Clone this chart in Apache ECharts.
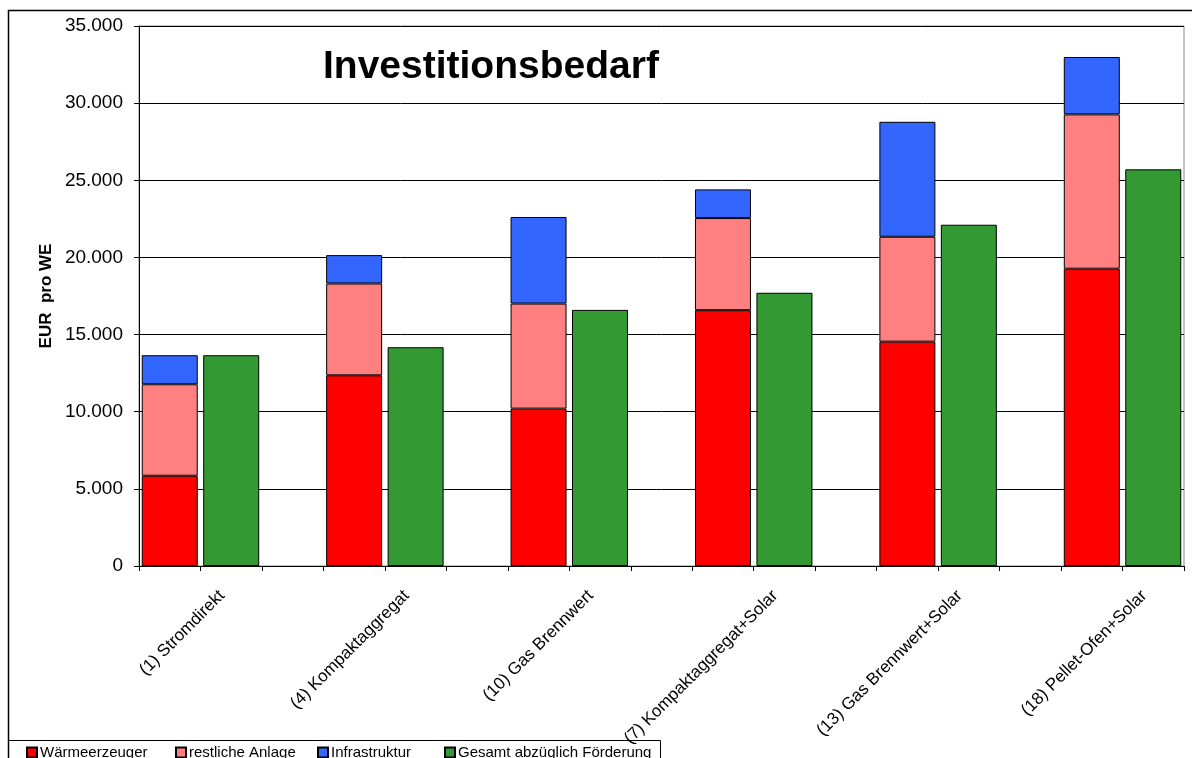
<!DOCTYPE html>
<html>
<head>
<meta charset="utf-8">
<script src="https://cdn.jsdelivr.net/npm/echarts@6/dist/echarts.min.js"></script>
<style>
html,body{margin:0;padding:0;background:#fff;}
#chart{width:1192px;height:758px;}
</style>
</head>
<body>
<div id="chart"></div>
<script>
// ---- data ----
var categories = ['(1) Stromdirekt', '(4) Kompaktaggregat', '(10) Gas Brennwert', '(7) Kompaktaggregat+Solar', '(13) Gas Brennwert+Solar', '(18) Pellet-Ofen+Solar'];
var waermeerzeuger = [5850, 12360, 10200, 16580, 14540, 19270];
var restlicheAnlage = [5930, 5950, 6810, 5970, 6800, 10000];
var infrastruktur = [1880, 1840, 5610, 1860, 7450, 3720];
var gesamtAbzFoerderung = [13660, 14180, 16600, 17710, 22120, 25710];
var yTicks = [0, 5000, 10000, 15000, 20000, 25000, 30000, 35000];
var seriesNames = ['Wärmeerzeuger', 'restliche Anlage', 'Infrastruktur', 'Gesamt abzüglich Förderung'];

// build slot layout: [stacked, total, gap] per group (last gap omitted)
var axisCats = [];
function slotArray(vals, offset) {
  var arr = [];
  for (var g = 0; g < categories.length; g++) {
    for (var s = 0; s < 3; s++) {
      if (g === categories.length - 1 && s === 2) continue;
      arr.push(s === offset ? vals[g] : null);
    }
  }
  return arr;
}
for (var g = 0; g < categories.length; g++) {
  axisCats.push('g' + g + 'a');
  axisCats.push('g' + g + 'b');
  if (g < categories.length - 1) axisCats.push('g' + g + 'c');
}
function labelFor(v) {
  var m = /^g(\d+)b$/.exec(v);
  return m ? categories[+m[1]] : '';
}
function fmt(v) { return String(v).replace(/\B(?=(\d{3})+(?!\d))/g, '.'); }

var font = 'Liberation Sans, Arial, sans-serif';
var colors = ['#FF0000', '#FF8080', '#3366FF', '#339933'];
var datas = [slotArray(waermeerzeuger, 0), slotArray(restlicheAnlage, 0), slotArray(infrastruktur, 0), slotArray(gesamtAbzFoerderung, 1)];
var legendLefts = [26, 175, 317, 444];

var chart = echarts.init(document.getElementById('chart'), null, {renderer: 'canvas'});
chart.setOption({
  animation: false,
  backgroundColor: '#fff',
  textStyle: {fontFamily: font, color: '#000'},
  grid: {left: 139, right: 8, top: 26, bottom: 192, show: true, borderColor: '#888', borderWidth: 1},
  legend: seriesNames.map(function (n, i) {
    return {
      left: legendLefts[i], top: 745, padding: 0,
      itemWidth: 10, itemHeight: 10,
      icon: 'rect',
      textStyle: {fontFamily: font, fontSize: 15, color: '#000', padding: [0, 0, 0, -2]},
      data: [n]
    };
  }),
  xAxis: {
    type: 'category',
    data: axisCats,
    axisLine: {lineStyle: {color: '#000', width: 1}},
    axisTick: {show: true, interval: 0, alignWithLabel: false, length: 5, lineStyle: {color: '#000'}},
    axisLabel: {interval: 0, rotate: 45, fontSize: 17, color: '#000', fontFamily: font, margin: 18, padding: [0, 13, 0, 0], formatter: labelFor}
  },
  yAxis: {
    type: 'value', min: yTicks[0], max: yTicks[yTicks.length - 1], interval: yTicks[1] - yTicks[0],
    axisLine: {show: true, lineStyle: {color: '#000'}},
    axisTick: {show: true, length: 5, lineStyle: {color: '#000'}},
    splitLine: {show: true, lineStyle: {color: '#000', width: 1}},
    axisLabel: {fontSize: 19, color: '#000', fontFamily: font, margin: 16, formatter: fmt}
  },
  graphic: [
    {type: 'rect', shape: {x: 8.5, y: 10.5, width: 1200, height: 800}, style: {fill: 'none', stroke: '#000', lineWidth: 1.5}, silent: true, z: 0},
    {type: 'rect', shape: {x: 8.5, y: 740.5, width: 652, height: 40}, style: {fill: 'none', stroke: '#000', lineWidth: 1}, silent: true, z: 0},
    {type: 'text', left: 323, top: 48, style: {text: 'Investitionsbedarf', font: 'bold 39px ' + font, fill: '#000'}, z: 10},
    {type: 'text', x: 46, y: 296, rotation: Math.PI / 2, style: {text: 'EUR  pro WE', font: 'bold 17px ' + font, fill: '#000', align: 'center', verticalAlign: 'middle'}, z: 10}
  ],
  series: seriesNames.map(function (n, i) {
    return {
      name: n, type: 'bar', stack: 'all', barWidth: 56,
      itemStyle: {color: colors[i], borderColor: '#000', borderWidth: 1},
      data: datas[i]
    };
  })
});
</script>
</body>
</html>
